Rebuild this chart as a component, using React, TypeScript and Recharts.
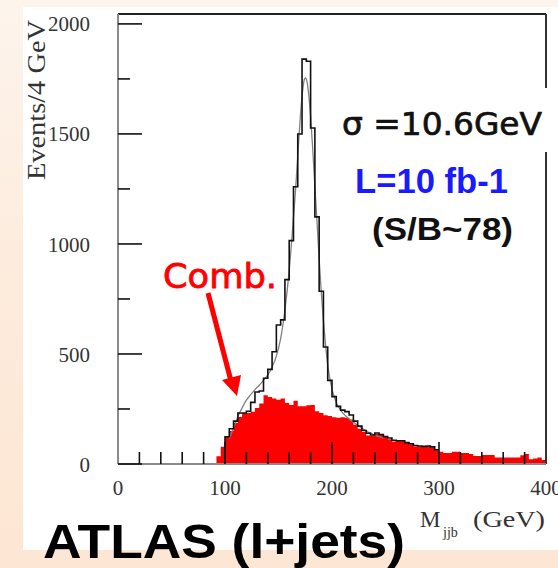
import React from 'react';
import { ComposedChart, Area, Line, XAxis, YAxis, Scatter, ReferenceLine } from 'recharts';

// ---- data (events per 4 GeV bin) ----
const BIN_WIDTH = 4;
const combStart = 92; // first bin of combinatorial background (GeV)
const combValues = [
  35, 78, 124, 150, 186, 214, 232, 232, 238, 255, 275, 312, 305, 298, 292, 298,
  277, 268, 288, 262, 262, 267, 268, 240, 232, 222, 218, 212, 210, 212, 210, 202,
  178, 160, 145, 130, 128, 136, 133, 125, 112, 102, 106, 106, 97, 90, 80, 79,
  79, 81, 75, 60, 56, 50, 50, 56, 56, 50, 50, 45, 36, 36, 41, 41,
  41, 30, 30, 30, 30, 30, 30, 40, 45, 22, 25, 29, 18,
];
const totalStart = 100; // first bin of the total histogram (GeV)
const totalValues = [
  124, 160, 195, 232, 232, 240, 280, 327, 332, 390, 430, 510, 632, 655, 838, 1015,
  1260, 1500, 1840, 1830, 1527, 1123, 785, 532, 380, 306, 262, 245, 238, 223, 195, 172,
  152, 140, 132, 141, 134, 125, 118, 108, 106, 106, 97, 92, 84, 82, 80, 82, 78, 64,
];
const fitMass = [
  104, 108, 112, 116, 120, 124, 128, 132, 136, 140, 144, 148, 152, 156, 160, 164,
  166, 168, 170, 172, 174, 175, 176, 178, 180, 182, 184, 186, 188, 190, 192, 194,
  196, 200, 204, 208, 212, 216, 220, 224, 228, 232, 236, 240, 244, 248,
];
const fitValues = [
  115, 165, 215, 255, 290, 315, 338, 358, 380, 405, 440, 490, 570, 700, 880, 1120,
  1250, 1400, 1550, 1670, 1745, 1755, 1750, 1690, 1580, 1430, 1260, 1100, 930, 780, 650, 540,
  450, 340, 280, 245, 222, 205, 190, 176, 162, 150, 140, 131, 124, 118,
];
const xTicks = [0, 20, 40, 60, 80, 100, 120, 140, 160, 180, 200, 220, 240, 260, 280, 300, 320, 340, 360, 380, 400];
const xTickLabels = [0, 100, 200, 300, 400];
const yTicks = [0, 250, 500, 750, 1000, 1250, 1500, 1750, 2000];
const yTickLabels = [0, 500, 1000, 1500, 2000];

const X_DOMAIN: [number, number] = [0, 400];
const Y_DOMAIN: [number, number] = [0, 2045];

const combData = [
  ...combValues.map((v, i) => ({ m: combStart + BIN_WIDTH * i, comb: v })),
  { m: combStart + BIN_WIDTH * combValues.length, comb: combValues[combValues.length - 1] },
];
const totalData = [
  { m: totalStart, total: 0 },
  ...totalValues.map((v, i) => ({ m: totalStart + BIN_WIDTH * i, total: v })),
  { m: totalStart + BIN_WIDTH * totalValues.length, total: totalValues[totalValues.length - 1] },
];
const fitData = fitMass.map((m, i) => ({ m, fit: fitValues[i] }));
// inward x tick marks, drawn as a series so that they sit on top of the filled histogram
const xTickMarkData = xTicks.filter((t) => t > 0 && t < 400).map((t) => ({ m: t, base: 0, major: xTickLabels.includes(t) }));

const SERIF = '"Liberation Serif", "DejaVu Serif", serif';
const SANS = '"Liberation Sans", Arial, sans-serif';

const XTick = (props: any) => {
  const { x, y, payload } = props;
  const v = payload.value;
  const major = xTickLabels.includes(v);
  if (!major) return <g />;
  return (
    <text x={x} y={y + 31} textAnchor="middle" fontFamily={SERIF} fontSize={21} fill="#333">
      {v}
    </text>
  );
};

const YTick = (props: any) => {
  const { x, y, payload } = props;
  const v = payload.value;
  const major = yTickLabels.includes(v);
  return (
    <g>
      <line x1={x} x2={x + (major ? 24 : 12)} y1={y} y2={y} stroke="#111" strokeWidth={1.6} />
      {major && (
        <text x={x - 28} y={y} dy="0.36em" textAnchor="end" fontFamily={SERIF} fontSize={21} fill="#333">
          {v}
        </text>
      )}
    </g>
  );
};

const TickMark = (props: any) => {
  const { cx, cy, payload } = props;
  if (cx == null || cy == null) return <g />;
  return (
    <line
      x1={cx}
      x2={cx}
      y1={cy}
      y2={cy - (payload && payload.major ? 22 : 12)}
      stroke="#111"
      strokeWidth={1.6}
    />
  );
};

export default function App() {
  return (
    <div
      style={{
        position: 'absolute',
        left: 0,
        top: 0,
        width: 558,
        height: 568,
        overflow: 'hidden',
        background: 'linear-gradient(180deg, #fdf4ec 0%, #fdebdc 50%, #fde6d3 100%)',
      }}
    >
      <div style={{ position: 'absolute', left: 23, top: 7, width: 535, height: 543, background: '#ffffff' }} />
      <div style={{ position: 'absolute', left: 0, top: 0 }}>
        <ComposedChart width={558} height={568} margin={{ top: 13, left: 28, right: 12, bottom: 64 }}>
          <XAxis
            dataKey="m"
            type="number"
            domain={X_DOMAIN}
            ticks={xTicks}
            interval={0}
            height={40}
            tickSize={0}
            tickMargin={0}
            tickLine={false}
            axisLine={{ stroke: '#8a8a8a', strokeWidth: 2 }}
            tick={(p: any) => <XTick {...p} />}
          />
          <XAxis
            xAxisId="top"
            orientation="top"
            dataKey="m"
            type="number"
            domain={X_DOMAIN}
            height={1}
            tick={false}
            tickLine={false}
            axisLine={{ stroke: '#222', strokeWidth: 2 }}
          />
          <YAxis
            type="number"
            domain={Y_DOMAIN}
            ticks={yTicks}
            interval={0}
            width={90}
            tickSize={0}
            tickMargin={0}
            tickLine={false}
            axisLine={{ stroke: '#8a8a8a', strokeWidth: 2 }}
            tick={(p: any) => <YTick {...p} />}
          />
          <Area
            data={combData}
            dataKey="comb"
            type="stepAfter"
            fill="#ff0000"
            fillOpacity={1}
            stroke="none"
            isAnimationActive={false}
          />
          <Line
            data={fitData}
            dataKey="fit"
            type="monotone"
            stroke="#808080"
            strokeWidth={1.3}
            dot={false}
            isAnimationActive={false}
          />
          <Line
            data={totalData}
            dataKey="total"
            type="stepAfter"
            stroke="#111"
            strokeWidth={1.6}
            dot={false}
            isAnimationActive={false}
          />
          <Scatter
            data={xTickMarkData}
            dataKey="base"
            shape={(p: any) => <TickMark {...p} />}
            isAnimationActive={false}
          />
          <ReferenceLine x={400} stroke="#333" strokeWidth={2} ifOverflow="visible" />
        </ComposedChart>
      </div>
      <svg
        width={558}
        height={568}
        style={{ position: 'absolute', left: 0, top: 0, pointerEvents: 'none' }}
      >
        <rect x={336} y={88} width={216} height={64} fill="#ffffff" />
        <text
          x={342}
          y={135}
          fontFamily='"DejaVu Sans", sans-serif'
          fontSize={32}
          fill="#111"
          stroke="#111"
          strokeWidth={0.7}
          textLength={200}
          lengthAdjust="spacingAndGlyphs"
        >
          σ =10.6GeV
        </text>
        <text
          x={355}
          y={193}
          fontFamily={SANS}
          fontWeight="bold"
          fontSize={35}
          fill="#1a1aff"
          textLength={153}
          lengthAdjust="spacingAndGlyphs"
        >
          L=10 fb-1
        </text>
        <text
          x={372}
          y={240}
          fontFamily={SANS}
          fontWeight="bold"
          fontSize={32}
          fill="#111"
          textLength={141}
          lengthAdjust="spacingAndGlyphs"
        >
          (S/B~78)
        </text>
        <text
          x={163}
          y={288}
          fontFamily='"DejaVu Sans", sans-serif'
          fontSize={34}
          fill="#ff0000"
          stroke="#ff0000"
          strokeWidth={0.8}
          textLength={114}
          lengthAdjust="spacingAndGlyphs"
        >
          Comb.
        </text>
        <line x1={208} y1={293} x2={231} y2={381} stroke="#ff0000" strokeWidth={5} />
        <polygon points="222,380 241,375 237,396" fill="#ff0000" />
        <text
          transform="translate(45,100) rotate(-90)"
          textAnchor="middle"
          fontFamily={SERIF}
          fontSize={26}
          fill="#333"
          textLength={160}
          lengthAdjust="spacingAndGlyphs"
        >
          Events/4 GeV
        </text>
        <text x={420} y={527} fontFamily={SERIF} fontSize={23} fill="#333">
          M
        </text>
        <text x={443} y={537} fontFamily={SERIF} fontSize={14} fill="#333">
          jjb
        </text>
        <text
          x={473}
          y={527}
          fontFamily={SERIF}
          fontSize={23}
          fill="#333"
          textLength={72}
          lengthAdjust="spacingAndGlyphs"
        >
          (GeV)
        </text>
        <text
          x={43}
          y={558}
          fontFamily={SANS}
          fontWeight="bold"
          fontSize={49}
          fill="#000"
          textLength={362}
          lengthAdjust="spacingAndGlyphs"
        >
          ATLAS (l+jets)
        </text>
      </svg>
    </div>
  );
}
